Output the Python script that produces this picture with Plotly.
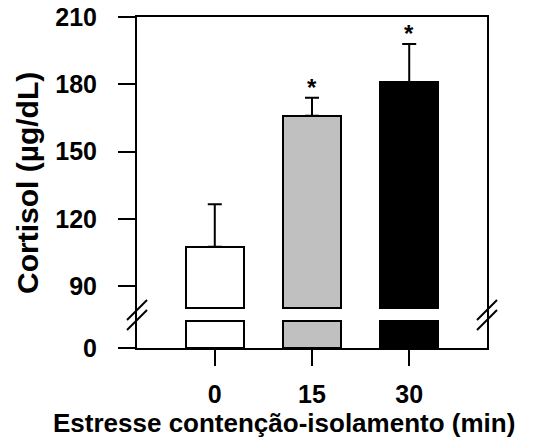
import plotly.graph_objects as go

# Cortisol levels after restraint-isolation stress
categories = ["0", "15", "30"]
cortisol_mean = [107.5, 166.0, 181.0]
cortisol_sem = [19.0, 8.0, 17.0]
significant = [False, True, True]
bar_colors = ["white", "#c0c0c0", "black"]

upper_ticks = [90, 120, 150, 180, 210]
lower_ticks = [0]

# broken-axis settings
W, H = 554, 445
LEFT, RIGHT = 137, 487          # plot area (px)
TOP, BREAK, BOTTOM = 17, 315, 348
upper_range = [90 - (BREAK - 286) / 2.2417, 210]
lower_range = [0, (BOTTOM - BREAK) / 2.2417]
upper_base = 80                 # where bars restart above the break
lower_cap = 12                  # where bars stop below the break

FONT = "Liberation Sans, Arial, sans-serif"
xpos = list(range(len(categories)))

fig = go.Figure()

# lower segment of the bars
fig.add_trace(go.Bar(
    x=xpos, y=[min(v, lower_cap) for v in cortisol_mean],
    marker=dict(color=bar_colors, line=dict(color="black", width=2)),
    width=0.6, xaxis="x", yaxis="y", showlegend=False,
))

# upper segment of the bars with SEM
fig.add_trace(go.Bar(
    x=xpos, y=[v - upper_base for v in cortisol_mean], base=upper_base,
    marker=dict(color=bar_colors, line=dict(color="black", width=2)),
    width=0.6, xaxis="x2", yaxis="y2", showlegend=False,
    error_y=dict(type="data", symmetric=False, array=cortisol_sem,
                 arrayminus=[0] * len(cortisol_sem),
                 color="black", thickness=2, width=7),
))

xdom = [LEFT / W, RIGHT / W]
axis_common = dict(showgrid=False, zeroline=False, showline=True,
                   linecolor="black", linewidth=2, ticks="outside",
                   tickcolor="black", tickwidth=2, automargin=False,
                   tickfont=dict(family=FONT, size=25, color="black", weight="bold"))

fig.update_layout(
    width=W, height=H,
    margin=dict(l=0, r=0, t=0, b=0, autoexpand=False),
    paper_bgcolor="white", plot_bgcolor="white",
    bargap=0,
    xaxis=dict(axis_common, domain=xdom, range=[-0.8, 2.8], anchor="y",
               tickvals=xpos, ticktext=categories, ticklen=16,
               ticklabelstandoff=7),
    xaxis2=dict(domain=xdom, range=[-0.8, 2.8], anchor="y2", side="top",
                showline=True, linecolor="black", linewidth=2, automargin=False,
                showticklabels=False, ticks="", showgrid=False, zeroline=False),
    yaxis=dict(axis_common, domain=[1 - BOTTOM / H, 1 - BREAK / H],
               range=lower_range, tickvals=lower_ticks, ticklen=17,
               mirror=True, anchor="x", ticklabelstandoff=16),
    yaxis2=dict(axis_common, domain=[1 - BREAK / H, 1 - TOP / H],
                range=upper_range, tickvals=upper_ticks, ticklen=17,
                mirror=True, anchor="x2", ticklabelstandoff=16),
)

# significance asterisks above the error bars
for i, (m, e, s) in enumerate(zip(cortisol_mean, cortisol_sem, significant)):
    if s:
        fig.add_annotation(x=i, y=m + e, xref="x2", yref="y2", text="*",
                           showarrow=False, yanchor="middle", yshift=10,
                           font=dict(family=FONT, size=24, color="black", weight="bold"))

# axis titles
fig.add_annotation(x=284 / W, y=1 - 423 / H, xref="paper", yref="paper",
                   text="Estresse contenção-isolamento (min)", showarrow=False,
                   xanchor="center", yanchor="middle",
                   font=dict(family=FONT, size=26, color="black", weight="bold"))
fig.add_annotation(x=28 / W, y=1 - 183 / H, xref="paper", yref="paper",
                   text="Cortisol (µg/dL)", showarrow=False, textangle=-90,
                   xanchor="center", yanchor="middle",
                   font=dict(family=FONT, size=30, color="black", weight="bold"))

# break marks on both vertical axes
for xc in (LEFT, RIGHT):
    for dy in (-5, 5):
        yc = BREAK + dy
        fig.add_shape(type="line", xref="paper", yref="paper",
                      x0=(xc - 10) / W, y0=1 - (yc + 10) / H,
                      x1=(xc + 10) / W, y1=1 - (yc - 10) / H,
                      line=dict(color="black", width=2))

fig.write_html("out.html")
